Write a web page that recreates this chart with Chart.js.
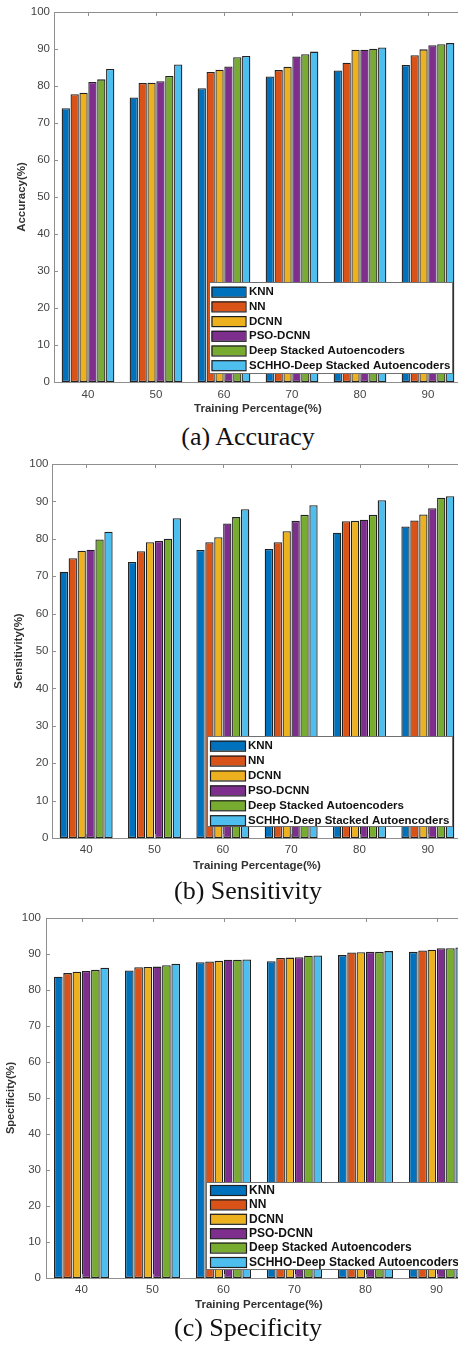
<!DOCTYPE html>
<html lang="en">
<head>
<meta charset="utf-8">
<title>Accuracy / Sensitivity / Specificity</title>
<script src="https://cdn.jsdelivr.net/npm/chart.js@4.4.0/dist/chart.umd.min.js"></script>
<style>
  html, body { margin: 0; padding: 0; background: #fff; overflow: hidden; }
  body { position: relative; width: 458px; height: 1345px; }
  .panel { position: absolute; left: 0; width: 480px; }
  .caption {
    position: absolute; left: 98px; width: 300px; text-align: center;
    font-family: "Liberation Serif", "Times New Roman", serif;
    font-size: 26px; line-height: 26px; color: #111;
  }
</style>
</head>
<body>
  <div class="panel" style="top:0px"><canvas id="accChart" width="480" height="422"></canvas></div>
  <div class="caption" style="top:424px">(a) Accuracy</div>

  <div class="panel" style="top:452px"><canvas id="senChart" width="480" height="426"></canvas></div>
  <div class="caption" style="top:878px">(b) Sensitivity</div>

  <div class="panel" style="top:906px"><canvas id="speChart" width="480" height="412"></canvas></div>
  <div class="caption" style="top:1315px">(c) Specificity</div>

<script>
// training percentages on the x axis
const categories = ['40', '50', '60', '70', '80', '90'];
const methods = ['KNN', 'NN', 'DCNN', 'PSO-DCNN', 'Deep Stacked Autoencoders', 'SCHHO-Deep Stacked Autoencoders'];

// (a) accuracy
const accKNN   = [74.0, 76.9, 79.4, 82.6, 84.2, 85.7];
const accNN    = [77.8, 80.8, 83.8, 84.3, 86.3, 88.3];
const accDCNN  = [78.2, 80.9, 84.4, 85.2, 89.8, 89.9];
const accPSO   = [81.1, 81.3, 85.3, 88.0, 89.8, 91.0];
const accDSAE  = [81.8, 82.7, 87.8, 88.6, 90.1, 91.3];
const accSCHHO = [84.6, 85.8, 88.1, 89.3, 90.4, 91.6];

// (b) sensitivity
const senKNN   = [71.2, 73.8, 77.0, 77.3, 81.6, 83.3];
const senNN    = [74.8, 76.7, 79.1, 79.1, 84.7, 84.9];
const senDCNN  = [76.8, 79.1, 80.4, 82.0, 84.8, 86.5];
const senPSO   = [77.1, 79.4, 84.1, 84.8, 85.1, 88.2];
const senDSAE  = [79.8, 80.0, 85.8, 86.4, 86.4, 91.0];
const senSCHHO = [81.9, 85.5, 87.9, 89.0, 90.3, 91.4];

// (c) specificity
const speKNN   = [83.7, 85.4, 87.7, 88.0, 89.7, 90.6];
const speNN    = [84.7, 86.3, 87.9, 88.9, 90.4, 91.0];
const speDCNN  = [85.1, 86.4, 88.1, 89.0, 90.5, 91.2];
const spePSO   = [85.3, 86.5, 88.4, 89.1, 90.6, 91.6];
const speDSAE  = [85.6, 86.9, 88.4, 89.5, 90.6, 91.6];
const speSCHHO = [86.2, 87.3, 88.5, 89.6, 90.8, 91.8];

// matlab default bar colours
const barColors = ['#0072BD', '#D95319', '#EDB120', '#7E2F8E', '#77AC30', '#4DBEEE'];

Chart.defaults.font.family = '"Liberation Sans", Arial, sans-serif';

// box around the axes with small inward ticks, like matlab
const matlabFrame = {
  id: 'matlabFrame',
  afterDatasetsDraw(chart) {
    const { ctx, chartArea: a, scales: { x, y } } = chart;
    ctx.save();
    ctx.strokeStyle = '#8f8f8f';
    ctx.lineWidth = 1;
    ctx.beginPath();
    ctx.rect(Math.round(a.left) + 0.5, Math.round(a.top) + 0.5, Math.round(a.right - a.left), Math.round(a.bottom - a.top));
    x.ticks.forEach((t, i) => {
      const px = Math.round(x.getPixelForTick(i)) + 0.5;
      ctx.moveTo(px, a.bottom); ctx.lineTo(px, a.bottom - 4);
      ctx.moveTo(px, a.top); ctx.lineTo(px, a.top + 4);
    });
    y.ticks.forEach((t, i) => {
      const py = Math.round(y.getPixelForTick(i)) + 0.5;
      ctx.moveTo(a.left, py); ctx.lineTo(a.left + 4, py);
      ctx.moveTo(a.right, py); ctx.lineTo(a.right - 4, py);
    });
    ctx.stroke();
    ctx.restore();
  }
};

// legend box sitting inside the plot (bottom right)
const boxLegend = {
  id: 'boxLegend',
  afterDraw(chart, args, o) {
    const ctx = chart.ctx;
    ctx.save();
    ctx.fillStyle = '#fff';
    ctx.fillRect(o.left, o.top, o.width, o.height);
    ctx.strokeStyle = '#707070';
    ctx.lineWidth = 1;
    ctx.strokeRect(o.left + 0.5, o.top + 0.5, o.width, o.height);
    ctx.font = 'bold ' + o.fontSize + 'px "Liberation Sans", Arial, sans-serif';
    ctx.textBaseline = 'middle';
    chart.data.datasets.forEach((ds, i) => {
      const cy = o.top + o.firstRow + i * o.rowStep;
      ctx.fillStyle = ds.backgroundColor;
      ctx.fillRect(o.left + o.swatchX, cy - 5, o.swatchW, 10);
      ctx.strokeStyle = '#1f1f1f';
      ctx.lineWidth = 1.2;
      ctx.strokeRect(o.left + o.swatchX + 0.5, cy - 4.5, o.swatchW, 10);
      ctx.fillStyle = '#111';
      ctx.fillText(ds.label, o.left + o.textX, cy + 0.5);
    });
    ctx.restore();
  }
};

function makeChart(id, series, yTitle, geo) {
  const ctx = document.getElementById(id).getContext('2d');
  return new Chart(ctx, {
    type: 'bar',
    data: {
      labels: categories,
      datasets: series.map((vals, i) => ({
        label: methods[i],
        data: vals,
        backgroundColor: barColors[i],
        borderColor: '#222',
        borderWidth: 1.3,
        borderSkipped: false,
        barPercentage: 0.93,
        categoryPercentage: 0.784
      }))
    },
    options: {
      responsive: false,
      animation: false,
      layout: { padding: { top: 12, right: geo.padRight, bottom: 0, left: 0 } },
      plugins: {
        legend: { display: false },
        tooltip: { enabled: false },
        boxLegend: geo.legend
      },
      scales: {
        x: {
          offset: true,
          grid: { display: false, drawTicks: false },
          border: { display: false },
          ticks: { color: '#444', font: { size: 11.5 }, padding: geo.xTickPad, maxRotation: 0 },
          title: {
            display: true,
            text: 'Training Percentage(%)',
            color: '#333',
            font: { size: 11.5, weight: 'bold' },
            padding: { top: 0, bottom: geo.xTitlePad }
          },
          afterFit: (s) => { s.height = 40; }
        },
        y: {
          min: 0,
          max: 100,
          grid: { display: false, drawTicks: false },
          border: { display: false },
          ticks: { stepSize: 10, color: '#444', font: { size: 11.5 }, padding: geo.yTickPad },
          title: {
            display: true,
            text: yTitle,
            color: '#333',
            font: { size: geo.yTitleSize, weight: 'bold' },
            padding: { top: geo.yTitlePad, bottom: 0 }
          },
          afterFit: (s) => { s.width = geo.yWidth; }
        }
      }
    },
    plugins: [matlabFrame, boxLegend]
  });
}

makeChart('accChart',
  [accKNN, accNN, accDCNN, accPSO, accDSAE, accSCHHO],
  'Accuracy(%)',
  {
    padRight: 18, yWidth: 54, yTickPad: 4, yTitlePad: 14.6, yTitleSize: 11.5,
    xTickPad: 6, xTitlePad: 6.1,
    legend: { left: 209, top: 282, width: 243, height: 91, firstRow: 9.7, rowStep: 14.7,
              swatchX: 2.5, swatchW: 34, textX: 40, fontSize: 11.5 }
  });

makeChart('senChart',
  [senKNN, senNN, senDCNN, senPSO, senDSAE, senSCHHO],
  'Sensitivity(%)',
  {
    padRight: 18, yWidth: 52, yTickPad: 3.5, yTitlePad: 12.1, yTitleSize: 11.5,
    xTickPad: 5.4, xTitlePad: 5.1,
    legend: { left: 207, top: 284, width: 245, height: 90, firstRow: 9.7, rowStep: 14.9,
              swatchX: 3, swatchW: 35, textX: 41, fontSize: 11.5 }
  });

makeChart('speChart',
  [speKNN, speNN, speDCNN, spePSO, speDSAE, speSCHHO],
  'Specificity(%)',
  {
    padRight: 8, yWidth: 46, yTickPad: 5, yTitlePad: 3.9, yTitleSize: 11,
    xTickPad: 5.1, xTitlePad: 6.1,
    legend: { left: 206, top: 276, width: 253, height: 87, firstRow: 8, rowStep: 14.4,
              swatchX: 4, swatchW: 36, textX: 43, fontSize: 12 }
  });
</script>
</body>
</html>
